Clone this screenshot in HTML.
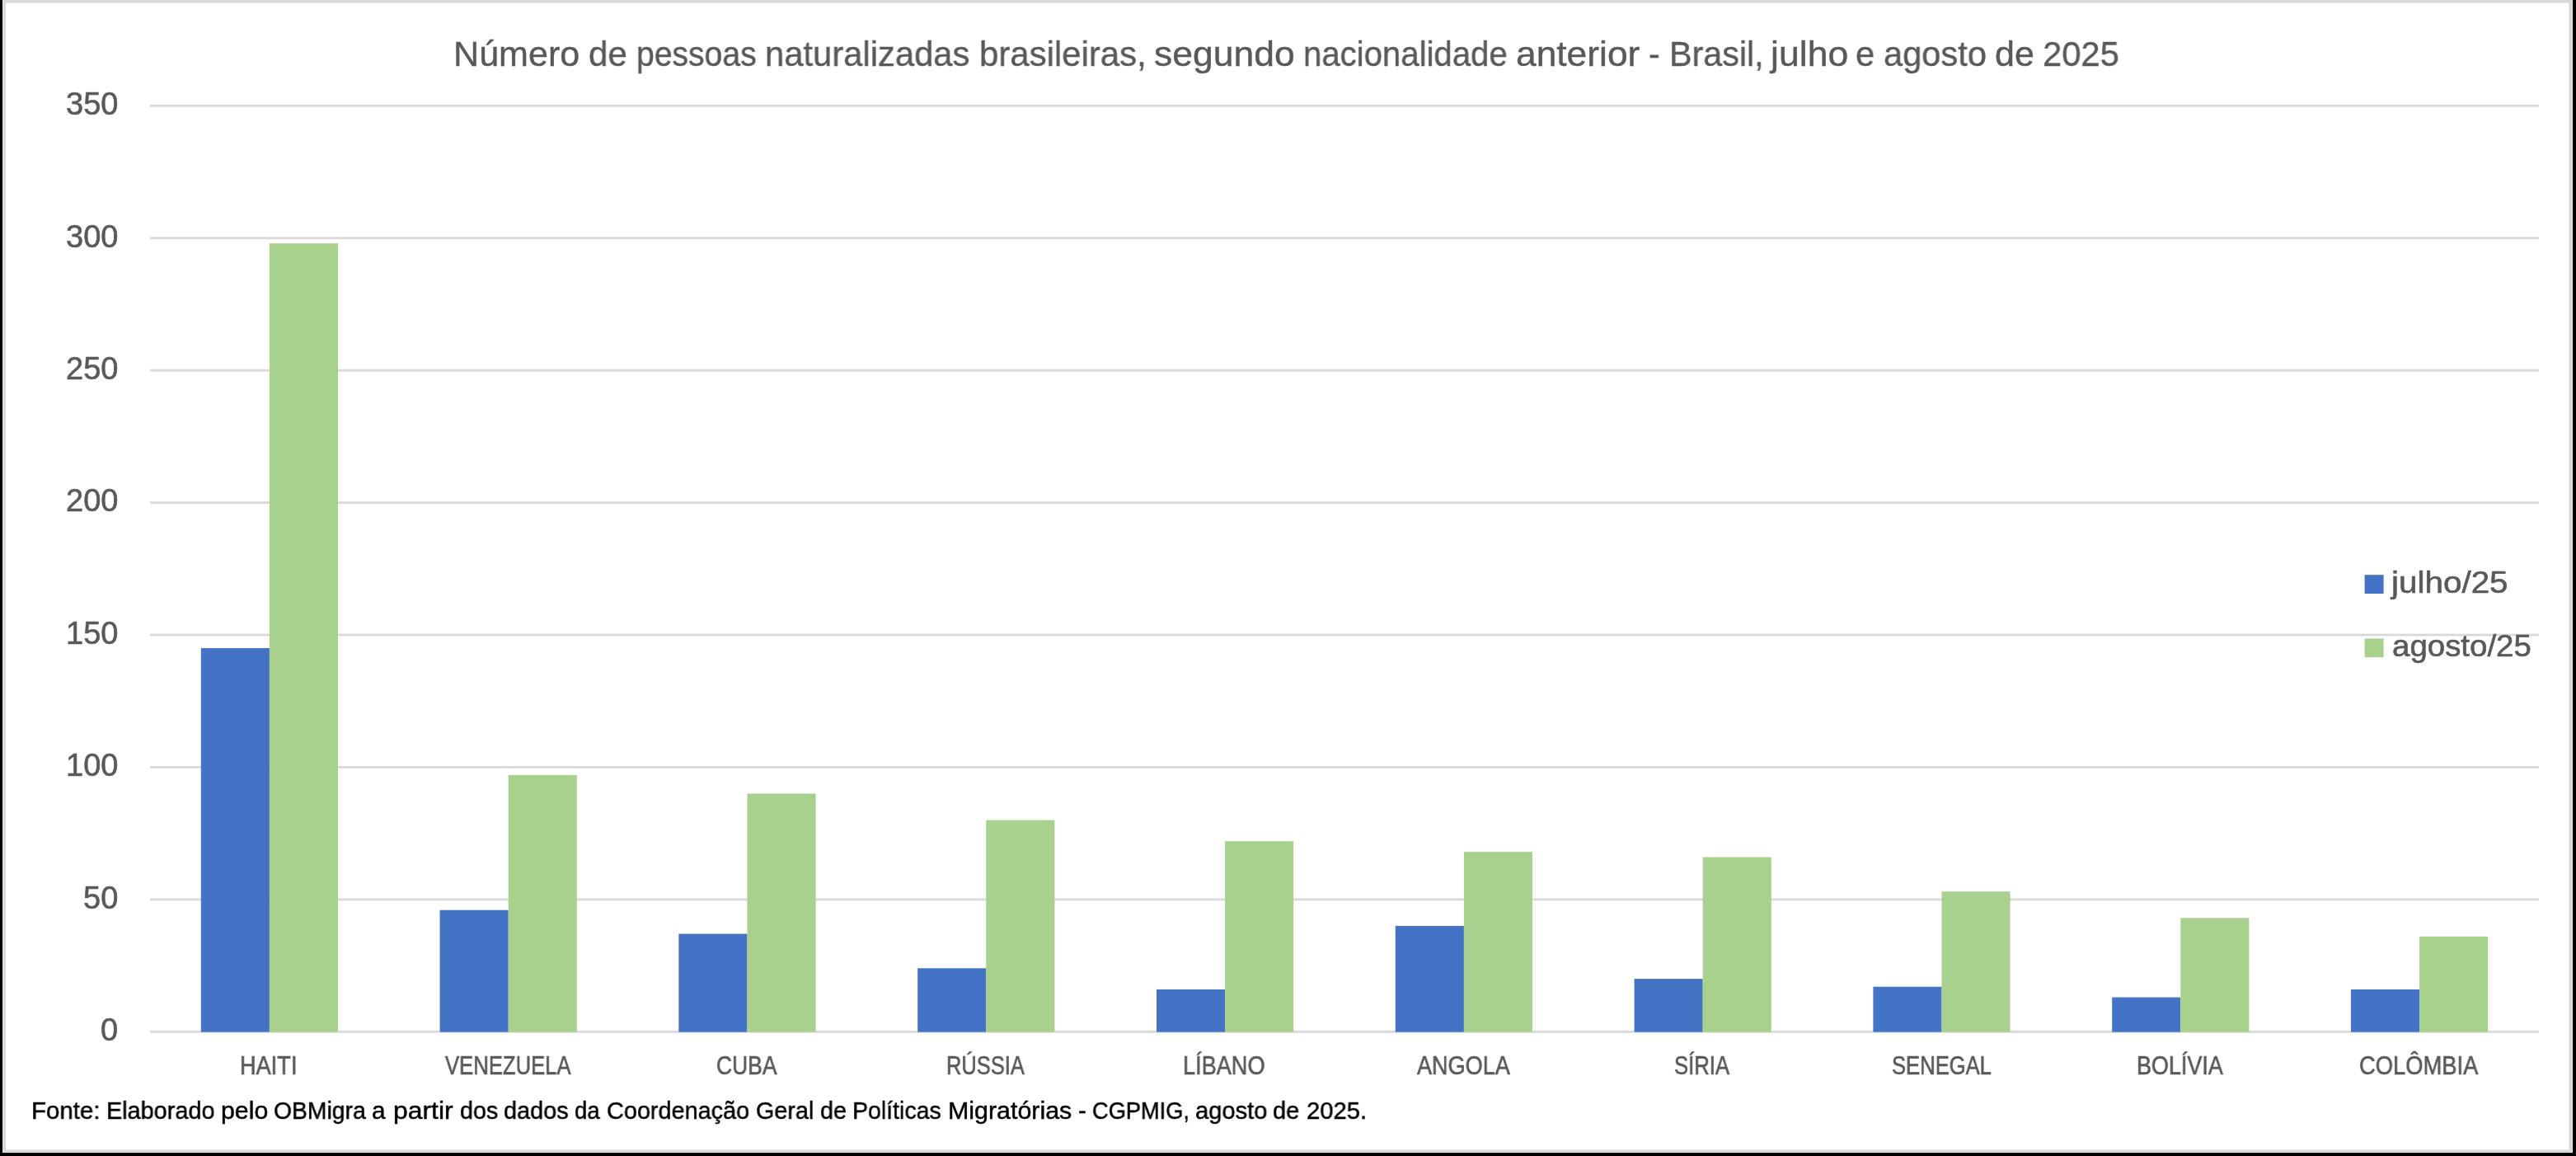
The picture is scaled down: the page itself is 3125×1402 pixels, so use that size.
<!DOCTYPE html>
<html><head><meta charset="utf-8"><title>Número de pessoas naturalizadas brasileiras</title><style>
html,body{margin:0;padding:0;width:3125px;height:1402px;overflow:hidden;background:#000}

.t{position:absolute;will-change:transform;font-family:"Liberation Sans",sans-serif;line-height:1;white-space:nowrap;transform-origin:0 0}
.s{position:absolute;left:0;top:0}
</style></head><body>
<svg class="s" width="3125" height="1402"><rect x="0" y="0" width="3125" height="1402" fill="#000"/>
<rect x="3" y="0" width="3118" height="1398" fill="#e9e9e9"/>
<rect x="4" y="0" width="3116" height="1397" fill="#d9d9d9"/>
<rect x="7" y="3.5" width="3109.5" height="1391" fill="#fff"/></svg>
<svg class="s" width="3125" height="1402" viewBox="0 0 3125 1402"><rect x="182" y="1249.90" width="2898" height="2.8" fill="#D9D9D9"/>
<rect x="182" y="1089.47" width="2898" height="2.8" fill="#D9D9D9"/>
<rect x="182" y="929.04" width="2898" height="2.8" fill="#D9D9D9"/>
<rect x="182" y="768.61" width="2898" height="2.8" fill="#D9D9D9"/>
<rect x="182" y="608.18" width="2898" height="2.8" fill="#D9D9D9"/>
<rect x="182" y="447.75" width="2898" height="2.8" fill="#D9D9D9"/>
<rect x="182" y="287.32" width="2898" height="2.8" fill="#D9D9D9"/>
<rect x="182" y="126.89" width="2898" height="2.8" fill="#D9D9D9"/>
<rect x="243.80" y="786.05" width="83.10" height="465.55" fill="#4472C4"/>
<rect x="326.90" y="295.14" width="83.10" height="956.46" fill="#A9D18E"/>
<rect x="533.60" y="1103.70" width="83.10" height="147.90" fill="#4472C4"/>
<rect x="616.70" y="940.07" width="83.10" height="311.53" fill="#A9D18E"/>
<rect x="823.40" y="1132.58" width="83.10" height="119.02" fill="#4472C4"/>
<rect x="906.50" y="962.53" width="83.10" height="289.07" fill="#A9D18E"/>
<rect x="1113.20" y="1174.29" width="83.10" height="77.31" fill="#4472C4"/>
<rect x="1196.30" y="994.61" width="83.10" height="256.99" fill="#A9D18E"/>
<rect x="1403.00" y="1199.96" width="83.10" height="51.64" fill="#4472C4"/>
<rect x="1486.10" y="1020.28" width="83.10" height="231.32" fill="#A9D18E"/>
<rect x="1692.80" y="1122.96" width="83.10" height="128.64" fill="#4472C4"/>
<rect x="1775.90" y="1033.12" width="83.10" height="218.48" fill="#A9D18E"/>
<rect x="1982.60" y="1187.13" width="83.10" height="64.47" fill="#4472C4"/>
<rect x="2065.70" y="1039.53" width="83.10" height="212.07" fill="#A9D18E"/>
<rect x="2272.40" y="1196.75" width="83.10" height="54.85" fill="#4472C4"/>
<rect x="2355.50" y="1081.24" width="83.10" height="170.36" fill="#A9D18E"/>
<rect x="2562.20" y="1209.59" width="83.10" height="42.01" fill="#4472C4"/>
<rect x="2645.30" y="1113.33" width="83.10" height="138.27" fill="#A9D18E"/>
<rect x="2852.00" y="1199.96" width="83.10" height="51.64" fill="#4472C4"/>
<rect x="2935.10" y="1135.79" width="83.10" height="115.81" fill="#A9D18E"/>
<rect x="2868.6" y="697.2" width="23.0" height="22.8" fill="#4472C4"/>
<rect x="2868.6" y="774.4" width="23.0" height="22.7" fill="#A9D18E"/></svg>
<div class="t" style="left:550.49px;top:43.90px;font-size:43.0px;color:#595959;-webkit-text-stroke:0.4px #595959;transform:scaleX(1.0027)">Número</div>
<div class="t" style="left:713.95px;top:43.90px;font-size:43.0px;color:#595959;-webkit-text-stroke:0.4px #595959;transform:scaleX(0.9773)">de</div>
<div class="t" style="left:771.78px;top:43.90px;font-size:43.0px;color:#595959;-webkit-text-stroke:0.4px #595959;transform:scaleX(0.9096)">pessoas</div>
<div class="t" style="left:927.99px;top:43.90px;font-size:43.0px;color:#595959;-webkit-text-stroke:0.4px #595959;transform:scaleX(0.9713)">naturalizadas</div>
<div class="t" style="left:1187.85px;top:43.90px;font-size:43.0px;color:#595959;-webkit-text-stroke:0.4px #595959;transform:scaleX(0.9748)">brasileiras,</div>
<div class="t" style="left:1399.66px;top:43.90px;font-size:43.0px;color:#595959;-webkit-text-stroke:0.4px #595959;transform:scaleX(1.0352)">segundo</div>
<div class="t" style="left:1580.70px;top:43.90px;font-size:43.0px;color:#595959;-webkit-text-stroke:0.4px #595959;transform:scaleX(0.9333)">nacionalidade</div>
<div class="t" style="left:1839.04px;top:43.90px;font-size:43.0px;color:#595959;-webkit-text-stroke:0.4px #595959;transform:scaleX(1.0308)">anterior</div>
<div class="t" style="left:1999.89px;top:43.90px;font-size:43.0px;color:#595959;-webkit-text-stroke:0.4px #595959;transform:scaleX(0.9545)">-</div>
<div class="t" style="left:2024.52px;top:43.90px;font-size:43.0px;color:#595959;-webkit-text-stroke:0.4px #595959;transform:scaleX(0.9593)">Brasil,</div>
<div class="t" style="left:2148.24px;top:43.90px;font-size:43.0px;color:#595959;-webkit-text-stroke:0.4px #595959;transform:scaleX(1.0389)">julho</div>
<div class="t" style="left:2251.36px;top:43.90px;font-size:43.0px;color:#595959;-webkit-text-stroke:0.4px #595959;transform:scaleX(0.9700)">e</div>
<div class="t" style="left:2284.77px;top:43.90px;font-size:43.0px;color:#595959;-webkit-text-stroke:0.4px #595959;transform:scaleX(0.9675)">agosto</div>
<div class="t" style="left:2420.21px;top:43.90px;font-size:43.0px;color:#595959;-webkit-text-stroke:0.4px #595959;transform:scaleX(0.9932)">de</div>
<div class="t" style="left:2477.56px;top:43.90px;font-size:43.0px;color:#595959;-webkit-text-stroke:0.4px #595959;transform:scaleX(0.9707)">2025</div>
<div class="t" style="left:37.61px;top:1331.90px;font-size:29.65px;color:#000;-webkit-text-stroke:0.45px #000;transform:scaleX(0.9938)">Fonte:</div>
<div class="t" style="left:128.55px;top:1331.90px;font-size:29.65px;color:#000;-webkit-text-stroke:0.45px #000;transform:scaleX(0.9727)">Elaborado</div>
<div class="t" style="left:268.15px;top:1331.90px;font-size:29.65px;color:#000;-webkit-text-stroke:0.45px #000;transform:scaleX(1.0226)">pelo</div>
<div class="t" style="left:332.14px;top:1331.90px;font-size:29.65px;color:#000;-webkit-text-stroke:0.45px #000;transform:scaleX(0.9560)">OBMigra</div>
<div class="t" style="left:451.39px;top:1331.90px;font-size:29.65px;color:#000;-webkit-text-stroke:0.45px #000;transform:scaleX(1.0063)">a</div>
<div class="t" style="left:477.45px;top:1331.90px;font-size:29.65px;color:#000;-webkit-text-stroke:0.45px #000;transform:scaleX(1.0754)">partir</div>
<div class="t" style="left:558.13px;top:1331.90px;font-size:29.65px;color:#000;-webkit-text-stroke:0.45px #000;transform:scaleX(0.9674)">dos</div>
<div class="t" style="left:611.43px;top:1331.90px;font-size:29.65px;color:#000;-webkit-text-stroke:0.45px #000;transform:scaleX(0.9734)">dados</div>
<div class="t" style="left:697.07px;top:1331.90px;font-size:29.65px;color:#000;-webkit-text-stroke:0.45px #000;transform:scaleX(0.9281)">da</div>
<div class="t" style="left:736.33px;top:1331.90px;font-size:29.65px;color:#000;-webkit-text-stroke:0.45px #000;transform:scaleX(0.9727)">Coordenação</div>
<div class="t" style="left:916.53px;top:1331.90px;font-size:29.65px;color:#000;-webkit-text-stroke:0.45px #000;transform:scaleX(0.9686)">Geral</div>
<div class="t" style="left:994.73px;top:1331.90px;font-size:29.65px;color:#000;-webkit-text-stroke:0.45px #000;transform:scaleX(0.9710)">de</div>
<div class="t" style="left:1034.38px;top:1331.90px;font-size:29.65px;color:#000;-webkit-text-stroke:0.45px #000;transform:scaleX(0.9615)">Políticas</div>
<div class="t" style="left:1149.55px;top:1331.90px;font-size:29.65px;color:#000;-webkit-text-stroke:0.45px #000;transform:scaleX(1.0250)">Migratórias</div>
<div class="t" style="left:1307.73px;top:1331.90px;font-size:29.65px;color:#000;-webkit-text-stroke:0.45px #000;transform:scaleX(0.9750)">-</div>
<div class="t" style="left:1324.88px;top:1331.90px;font-size:29.65px;color:#000;-webkit-text-stroke:0.45px #000;transform:scaleX(0.9176)">CGPMIG,</div>
<div class="t" style="left:1449.62px;top:1331.90px;font-size:29.65px;color:#000;-webkit-text-stroke:0.45px #000;transform:scaleX(0.9816)">agosto</div>
<div class="t" style="left:1544.32px;top:1331.90px;font-size:29.65px;color:#000;-webkit-text-stroke:0.45px #000;transform:scaleX(0.9774)">de</div>
<div class="t" style="left:1584.72px;top:1331.90px;font-size:29.65px;color:#000;-webkit-text-stroke:0.45px #000;transform:scaleX(0.9845)">2025.</div>
<div class="t" style="left:2900.98px;top:687.60px;font-size:37.5px;color:#595959;-webkit-text-stroke:0.6px #595959;transform:scaleX(1.0779)">julho/25</div>
<div class="t" style="left:2901.87px;top:764.60px;font-size:37.5px;color:#595959;-webkit-text-stroke:0.6px #595959;transform:scaleX(1.0253)">agosto/25</div>
<div class="t" style="left:291.42px;top:1276.80px;font-size:30.5px;color:#595959;-webkit-text-stroke:0.6px #595959;transform:scaleX(0.8905)">HAITI</div>
<div class="t" style="left:539.60px;top:1276.80px;font-size:30.5px;color:#595959;-webkit-text-stroke:0.6px #595959;transform:scaleX(0.8414)">VENEZUELA</div>
<div class="t" style="left:868.73px;top:1276.80px;font-size:30.5px;color:#595959;-webkit-text-stroke:0.6px #595959;transform:scaleX(0.8667)">CUBA</div>
<div class="t" style="left:1148.03px;top:1276.80px;font-size:30.5px;color:#595959;-webkit-text-stroke:0.6px #595959;transform:scaleX(0.8348)">RÚSSIA</div>
<div class="t" style="left:1435.22px;top:1276.80px;font-size:30.5px;color:#595959;-webkit-text-stroke:0.6px #595959;transform:scaleX(0.8899)">LÍBANO</div>
<div class="t" style="left:1719.00px;top:1276.80px;font-size:30.5px;color:#595959;-webkit-text-stroke:0.6px #595959;transform:scaleX(0.8882)">ANGOLA</div>
<div class="t" style="left:2030.66px;top:1276.80px;font-size:30.5px;color:#595959;-webkit-text-stroke:0.6px #595959;transform:scaleX(0.8430)">SÍRIA</div>
<div class="t" style="left:2294.96px;top:1276.80px;font-size:30.5px;color:#595959;-webkit-text-stroke:0.6px #595959;transform:scaleX(0.8394)">SENEGAL</div>
<div class="t" style="left:2592.13px;top:1276.80px;font-size:30.5px;color:#595959;-webkit-text-stroke:0.6px #595959;transform:scaleX(0.8838)">BOLÍVIA</div>
<div class="t" style="left:2862.30px;top:1276.80px;font-size:30.5px;color:#595959;-webkit-text-stroke:0.6px #595959;transform:scaleX(0.8963)">COLÔMBIA</div>
<div class="t" style="left:121.50px;top:1230.20px;font-size:38.0px;color:#595959;-webkit-text-stroke:0.6px #595959">0</div>
<div class="t" style="left:100.50px;top:1069.77px;font-size:38.0px;color:#595959;-webkit-text-stroke:0.6px #595959">50</div>
<div class="t" style="left:79.50px;top:909.34px;font-size:38.0px;color:#595959;-webkit-text-stroke:0.6px #595959">100</div>
<div class="t" style="left:79.50px;top:748.91px;font-size:38.0px;color:#595959;-webkit-text-stroke:0.6px #595959">150</div>
<div class="t" style="left:79.50px;top:588.48px;font-size:38.0px;color:#595959;-webkit-text-stroke:0.6px #595959">200</div>
<div class="t" style="left:79.50px;top:428.05px;font-size:38.0px;color:#595959;-webkit-text-stroke:0.6px #595959">250</div>
<div class="t" style="left:79.50px;top:267.62px;font-size:38.0px;color:#595959;-webkit-text-stroke:0.6px #595959">300</div>
<div class="t" style="left:79.50px;top:107.19px;font-size:38.0px;color:#595959;-webkit-text-stroke:0.6px #595959">350</div>
</body></html>
